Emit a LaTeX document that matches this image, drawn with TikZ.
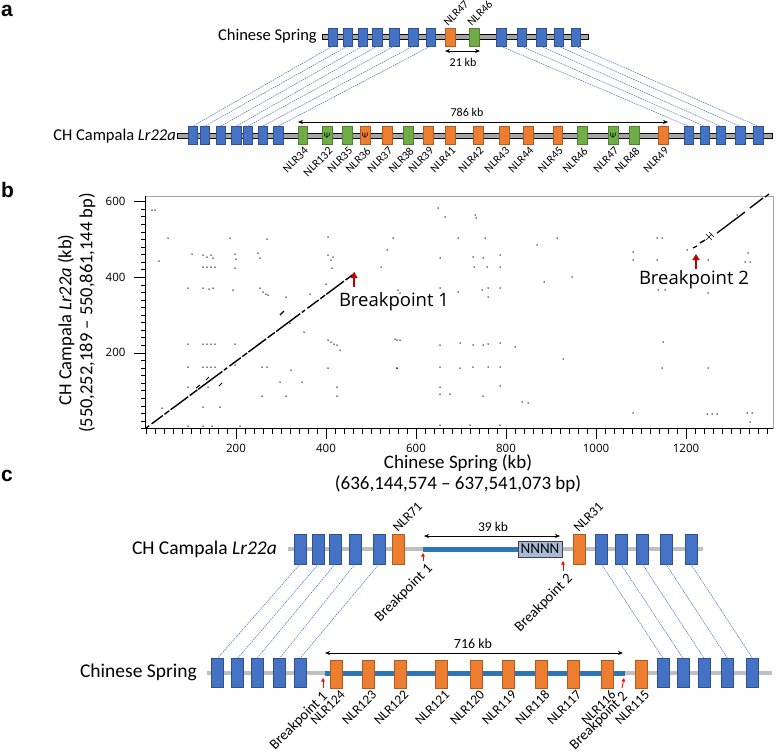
\documentclass[tikz,border=0pt]{standalone}
\usepackage{fontspec}
\setmainfont{Carlito}
\newfontfamily\osans{Open Sans}
\newfontfamily\lsans{Liberation Sans}
\usetikzlibrary{arrows.meta}
\newcommand\myfs[1]{\fontsize{#1}{#1}\selectfont}
\definecolor{gblue}{HTML}{4472C4}
\definecolor{gblueD}{HTML}{2F528F}
\definecolor{gorange}{HTML}{ED7D31}
\definecolor{gorangeD}{HTML}{AE5A21}
\definecolor{ggreen}{HTML}{70AD47}
\definecolor{ggreenD}{HTML}{507E32}
\definecolor{lblue}{HTML}{2E75B6}
\definecolor{barA}{HTML}{A6A6A6}
\definecolor{barC}{HTML}{BFBFBF}
\definecolor{nfill}{HTML}{A7B9D6}
\definecolor{dred}{HTML}{C00000}
\begin{document}
\begin{tikzpicture}[x=1pt,y=-1pt,
  gb/.style={rectangle,inner sep=0pt,minimum width=9.5pt,minimum height=18pt,line width=0.4pt},
  ab/.style={gb,fill=gblue,draw=gblueD},
  ao/.style={gb,fill=gorange,draw=gorangeD},
  ag/.style={gb,fill=ggreen,draw=ggreenD},
  cbx/.style={rectangle,inner sep=0pt,minimum width=12pt,minimum height=30pt,fill=gblue,draw=gblueD,line width=0.3pt},
  cox/.style={cbx,fill=gorange,draw=gorangeD},
  conn/.style={draw=gblue,line width=0.5pt,dash pattern=on 1.6pt off 0.8pt},
  psi/.style={inner sep=0pt,font=\myfs{8.5}},
  nlra/.style={font=\myfs{11.5},rotate=45,inner sep=0pt},
  nlrc/.style={font=\myfs{13.5},rotate=45,inner sep=0pt},
  bpc/.style={font=\myfs{14.5},rotate=45,inner sep=0pt},
  kbarrow/.style={line width=0.7pt,{Stealth[length=5pt,width=4pt]}-{Stealth[length=5pt,width=4pt]}},
  redarrow/.style={red,line width=0.8pt,-{Triangle[length=3.5pt,width=3.5pt]}},
  bigred/.style={dred,line width=2.4pt,-{Triangle[length=6pt,width=7pt]}},
  panel/.style={font=\lsans\bfseries\myfs{21},inner sep=0pt,anchor=base west},
  tick/.style={line width=0.5pt},
  dot/.style={black}
]
\fill[white] (0,0) rectangle (777,755);
\useasboundingbox (0,0) rectangle (777,755);

% ---------------- panel a ----------------
\node[panel] (pa) at (1,16) {a};
\draw[fill=barA,line width=0.5pt] (322,34.5) rectangle (588,39);
\draw[fill=barA,line width=0.5pt] (177,133.5) rectangle (772,138);
\node[anchor=east,font=\myfs{16.5},inner sep=0pt] (csA) at (317,36) {Chinese Spring};
\node[anchor=east,font=\myfs{16.5},inner sep=0pt] (chA) at (176,136) {CH Campala \textit{Lr22a}};

\foreach \n/\x in {T1/332.5,T2/347.5,T3/362.5,T4/377,T5/394,T6/413,T7/430.5,T10/501,T11/521.5,T12/541,T13/558.5,T14/575.5}
  \node[ab] (\n) at (\x,37) {};
\node[ao] (T8) at (450,37) {};
\node[ag] (T9) at (474,37) {};
\node[nlra,anchor=south west] (lT8) at ([xshift=-2pt,yshift=1pt]T8.north) {NLR47};
\node[nlra,anchor=south west] (lT9) at ([xshift=-2pt,yshift=1pt]T9.north) {NLR46};
\coordinate (k21a) at (445,51);
\coordinate (k21b) at (480,51);
\draw[kbarrow] (k21a) -- (k21b);
\node[font=\myfs{12}] (k21) at (463,62) {21 kb};

\foreach \n/\x in {B1/192.5,B2/204.5,B3/220.5,B4/236,B5/247.5,B6/262.5,B7/278,B8/688.5,B9/704.5,B10/720.5,B11/740,B12/758}
  \node[ab] (\n) at (\x,135.5) {};
\foreach \n/\x in {N34/302.5,N132/327,N35/347,N38/408,N46/582,N47/613,N48/634}
  \node[ag] (\n) at (\x,135.5) {};
\foreach \n/\x in {N36/365,N37/387,N39/428,N41/450,N42/478,N43/504,N44/528,N45/557.5,N49/663}
  \node[ao] (\n) at (\x,135.5) {};
\node[psi] (p132) at (N132) {Ψ};
\node[psi] (p36) at (N36) {Ψ};
\node[psi] (p47) at (N47) {Ψ};
\foreach \n/\l in {N34/NLR34,N132/NLR132,N35/NLR35,N36/NLR36,N37/NLR37,N38/NLR38,N39/NLR39,N41/NLR41,N42/NLR42,N43/NLR43,N44/NLR44,N45/NLR45,N46/NLR46,N47/NLR47,N48/NLR48,N49/NLR49}
  \node[nlra,anchor=north east] (l\n) at ([xshift=1pt,yshift=-1.5pt]\n.south) {\l};

\coordinate (k786a) at (298,122);
\coordinate (k786b) at (668,122);
\draw[kbarrow] (k786a) -- (k786b);
\node[font=\myfs{12}] (k786) at (467,112) {786 kb};

\foreach \a/\b in {T1/B1,T2/B2,T3/B3,T4/B4,T5/B5,T6/B6,T7/B7,T10/B8,T11/B9,T12/B10,T13/B11,T14/B12}
  \draw[conn] (\a.south) -- (\b.north);

% ---------------- panel b ----------------
\node[panel] (pb) at (1,197) {b};
\draw[gray!70,line width=0.6pt] (145.5,196) rectangle (773,428.5);
\foreach \k in {0,20,...,1380}
  \draw[tick] ({146+0.45*\k},428.5) -- ({146+0.45*\k},433.5);
\foreach \k in {200,400,...,1200}{
  \draw[tick] ({146+0.45*\k},428.5) -- ({146+0.45*\k},438.5);
  \node[font=\osans\myfs{11.5}] (xl\k) at ({146+0.45*\k},448) {\k};
}
\foreach \k in {0,20,...,600}
  \draw[tick] (145.5,{428.5-0.3783*\k}) -- (140.5,{428.5-0.3783*\k});
\foreach \k in {200,400,600}{
  \draw[tick] (145.5,{428.5-0.3783*\k}) -- (133.5,{428.5-0.3783*\k});
  \node[font=\osans\myfs{11.5},anchor=east] (yl\k) at (129,{428.5-0.3783*\k}) {\k};
}
\draw[line width=0.7pt] (145.5,196) -- (145.5,428.5) -- (773,428.5);

\node[font=\myfs{19}] (xtitle) at (458,463) {Chinese Spring (kb)};
\node[font=\myfs{19}] (xbp) at (458,484) {(636,144,574 – 637,541,073 bp)};
\node[rotate=90,font=\myfs{18.5}] (ytitle) at (66,320) {CH Campala \textit{Lr22a} (kb)};
\node[rotate=90,font=\myfs{18.5}] (ybp) at (87,313) {(550,252,189 – 550,861,144 bp)};

% diagonal 1
\draw[line width=1.4pt,dash pattern=on 4pt off 3pt on 14pt off 2pt on 6pt off 1.5pt on 22pt off 2pt on 9pt off 1.5pt on 30pt off 2pt]
  (146,428) -- (355,273);
\draw[line width=1.2pt] (280,315) -- (284,311);
\draw[line width=1.0pt] (196,388) -- (200,385) (206,380) -- (209,377) (219,386) -- (222,383);
% diagonal 2
\draw[line width=1.3pt] (693,248) -- (697,246) (700,243) -- (705,240) (717,233) -- (745,212) (750,208) -- (763,198) (765,197) -- (769,194);
\draw[line width=0.6pt] (706,234) -- (712,240) (706,240) -- (712,234) (709,232) -- (714,237);

\foreach \x/\y in {152/210,155/210,168/238,159/261,192/254,203/255,207/257,211/255,213/258,203/267,207/267,211/267,215/267,230/238,235/254,236/259,235/268,258/253,260/258,267/239,188/288,203/288,209/289,213/288,233/290,260/288,263/292,266/294,268/295,286/297,310/294,328/237,328/255,331/260,333/257,332/268,381/267,387/250,326/284,290/323,304/332,188/344,203/344,207/344,211/344,215/344,235/344,259/344,328/340,331/342,334/344,337/345,340/350,395/339,188/367,203/367,207/367,211/367,215/367,235/365,262/367,267/367,291/370,328/368,397/368,280/382,302/382,188/387,197/390,208/387,203/407,220/407,262/396,286/396,337/387,337/396,162/408,188/426,203/426,212/426,240/426,
438/208,445/217,475/215,476/218,393/238,458/238,485/238,440/258,473/257,483/258,487/267,500/255,500/267,474/267,440/288,458/292,482/290,488/288,488/297,500/288,398/290,400/293,537/245,557/238,544/282,572/277,397/340,400/340,440/345,460/343,473/345,483/345,488/344,500/343,515/347,397/368,440/367,460/368,473/367,488/367,500/367,563/359,440/387,440/394,450/394,483/396,500/386,522/402,528/403,440/425,470/425,500/425,633/252,633/260,657/238,662/238,657/260,658/290,665/290,687/250,708/260,708/293,737/215,745/262,750/262,748/253,663/342,662/368,708/368,633/413,707/414,712/414,717/414,747/413,752/413,750/422}
  \fill[dot] (\x,\y) circle (0.75pt);

\coordinate (bp1t) at (354,287);
\coordinate (bp1h) at (354,272);
\draw[bigred] (bp1t) -- (bp1h);
\node[font=\osans\myfs{18.5}] (bp1) at (394,302) {Breakpoint 1};
\coordinate (bp2t) at (696,269);
\coordinate (bp2h) at (696,254);
\draw[bigred] (bp2t) -- (bp2h);
\node[font=\osans\myfs{18.5}] (bp2) at (694,280) {Breakpoint 2};

% ---------------- panel c ----------------
\node[panel] (pc) at (1,481) {c};
\fill[barC] (288,547) rectangle (703,551);
\fill[lblue] (423,546.5) rectangle (518,551.5);
\fill[barC] (207,671) rectangle (772,675);
\fill[lblue] (325,670.5) rectangle (625,675.5);
\node[anchor=east,font=\myfs{19.5},inner sep=0pt] (chC) at (277,549) {CH Campala \textit{Lr22a}};
\node[anchor=east,font=\myfs{19.5},inner sep=0pt] (csC) at (197,672) {Chinese Spring};

\foreach \n/\x in {CT1/300,CT2/318.5,CT3/335,CT4/355,CT5/379,CT6/601.5,CT7/621,CT8/642.5,CT9/666,CT10/691}
  \node[cbx] (\n) at (\x,549) {};
\node[cox] (C71) at (398,549) {};
\node[cox] (C31) at (579,549) {};
\node[draw=black!75,fill=nfill,line width=0.6pt,minimum width=44pt,minimum height=16pt,inner sep=0pt,font=\myfs{15}] (NNNN) at (540,549) {NNNN};
\node[nlrc,anchor=south west] (l71) at ([yshift=1pt]C71.north) {NLR71};
\node[nlrc,anchor=south west] (l31) at ([yshift=1pt]C31.north) {NLR31};
\coordinate (k39a) at (424,536);
\coordinate (k39b) at (560,536);
\draw[kbarrow] (k39a) -- (k39b);
\node[font=\myfs{13.5}] (k39) at (493,527) {39 kb};

\coordinate (rb1t) at (423,561);
\coordinate (rb1h) at (423,553);
\draw[redarrow] (rb1t) -- (rb1h);
\node[bpc,anchor=north east] (tb1) at (426,562) {Breakpoint 1};
\coordinate (rb2t) at (563,571);
\coordinate (rb2h) at (563,561);
\draw[redarrow] (rb2t) -- (rb2h);
\node[bpc,anchor=north east] (tb2) at (566,572) {Breakpoint 2};

\foreach \n/\x in {CB1/217.5,CB2/237.5,CB3/257,CB4/279.5,CB5/300,CB6/663,CB7/683,CB8/704,CB9/727.5,CB10/752.5}
  \node[cbx,minimum height=29pt] (\n) at (\x,673) {};
\foreach \n/\x in {C124/336.5,C123/368,C122/400,C121/441,C120/476,C119/508,C118/541,C117/573,C116/607,C115/641}
  \node[cox,minimum height=28pt] (\n) at (\x,674) {};
\foreach \n/\l in {C124/NLR124,C123/NLR123,C122/NLR122,C121/NLR121,C120/NLR120,C119/NLR119,C118/NLR118,C117/NLR117,C116/NLR116,C115/NLR115}
  \node[nlrc,anchor=north east] (l\n) at ([xshift=3pt,yshift=-1pt]\n.south) {\l};
\coordinate (k716a) at (325,653);
\coordinate (k716b) at (623,653);
\draw[kbarrow] (k716a) -- (k716b);
\node[font=\myfs{14}] (k716) at (473,644) {716 kb};

\coordinate (rb3t) at (323,688);
\coordinate (rb3h) at (323,678);
\draw[redarrow] (rb3t) -- (rb3h);
\node[bpc,anchor=north east] (bb1) at (321,690) {Breakpoint 1};
\coordinate (rb4t) at (622,688);
\coordinate (rb4h) at (624,678);
\draw[redarrow] (rb4t) -- (rb4h);
\node[bpc,anchor=north east] (bb2) at (621,690) {Breakpoint 2};

\foreach \a/\b in {CT1/CB1,CT2/CB2,CT3/CB3,CT4/CB4,CT5/CB5,CT6/CB6,CT7/CB7,CT8/CB8,CT9/CB9,CT10/CB10}
  \draw[conn] (\a.south) -- (\b.north);
\end{tikzpicture}
\end{document}
